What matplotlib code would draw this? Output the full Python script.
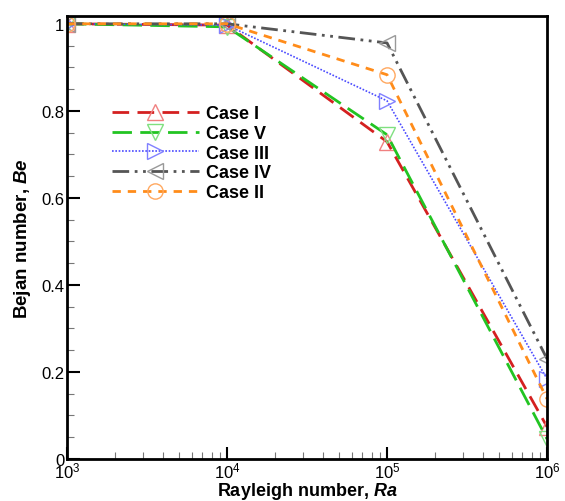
import matplotlib
matplotlib.use("Agg")
import matplotlib.pyplot as plt
from matplotlib.ticker import LogLocator, FixedLocator, MultipleLocator, FuncFormatter

plt.rcParams['font.family'] = ['Liberation Sans', 'DejaVu Sans']
plt.rcParams['mathtext.fontset'] = 'custom'
plt.rcParams['mathtext.it'] = 'Liberation Sans:italic:bold'
plt.rcParams['mathtext.bf'] = 'Liberation Sans:bold'
plt.rcParams['mathtext.rm'] = 'Liberation Sans'

ra = [1e3, 1e4, 1e5, 1e6]
case_labels = ["Case I", "Case V", "Case III", "Case IV", "Case II"]
be_case1 = [1.0, 0.997, 0.729, 0.074]
be_case5 = [1.0, 0.993, 0.745, 0.046]
be_case3 = [1.0, 0.997, 0.823, 0.184]
be_case4 = [1.0, 1.0, 0.956, 0.230]
be_case2 = [1.0, 1.0, 0.883, 0.138]

series = [be_case1, be_case5, be_case3, be_case4, be_case2]
line_colors = ["#d42020", "#22c422", "#4a4aff", "#555555", "#ff8c1a"]
marker_colors = ["#f08080", "#80e080", "#8080ff", "#999999", "#ffa860"]
markers = ["^", "v", ">", "<", "o"]
dashes = [(6, 3), (7, 3), (1, 1), (6, 2, 1, 2, 1, 2), (3, 2.5)]
widths = [2.0, 2.0, 1.2, 2.0, 2.0]

fig = plt.figure(figsize=(5.65, 5.02), dpi=100)
ax = fig.add_axes([0.1186, 0.0837, 0.8496, 0.8825])

for y, lab, lc, mc, mk, ds, lw in zip(series, case_labels, line_colors, marker_colors, markers, dashes, widths):
    ax.plot(ra, y, color=lc, lw=lw, dashes=ds, marker=mk, markersize=11,
            markerfacecolor='none', markeredgecolor=mc, markeredgewidth=1.0, label=lab)

ax.set_xscale('log')
ax.set_xlim(1e3, 1e6)
ax.set_ylim(0, 1.018)
ax.yaxis.set_major_locator(FixedLocator([0, 0.2, 0.4, 0.6, 0.8, 1.0]))
ax.yaxis.set_minor_locator(MultipleLocator(0.05))
ax.yaxis.set_major_formatter(FuncFormatter(lambda v, p: "%g" % v))
ax.xaxis.set_major_locator(LogLocator(base=10, numticks=10))
ax.xaxis.set_minor_locator(LogLocator(base=10, subs=range(2, 10), numticks=30))

ax.tick_params(which='both', direction='in', top=False, right=False, labelsize=12, pad=2)
ax.tick_params(axis='x', which='both', pad=1)
ax.tick_params(which='major', length=9, width=1.5)
ax.tick_params(which='minor', length=5, width=0.8, color='#777777')
for s in ax.spines.values():
    s.set_linewidth(2)

ax.set_xlabel("Rayleigh number, $\\mathit{Ra}$", fontsize=13, fontweight='bold', labelpad=0)
ax.set_ylabel("Bejan number, $\\mathit{Be}$", fontsize=13.5, fontweight='bold', labelpad=6)

leg = ax.legend(loc='upper left', bbox_to_anchor=(0.06, 0.835), frameon=False,
                handlelength=4.8, prop={'weight': 'bold', 'size': 13},
                labelspacing=0.15, handletextpad=0.4)

fig.savefig("out.png", dpi=100)
